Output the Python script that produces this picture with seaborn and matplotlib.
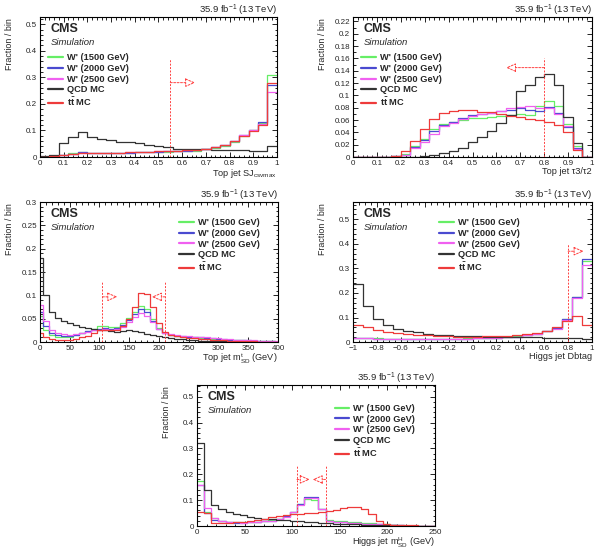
import numpy as np
import pandas as pd
import matplotlib
matplotlib.use("Agg")
import matplotlib.pyplot as plt
from matplotlib.lines import Line2D
from matplotlib.ticker import MultipleLocator, FuncFormatter
import seaborn as sns

# ---- data (fraction per bin) ----
labels = ["W' (1500 GeV)", "W' (2000 GeV)", "W' (2500 GeV)", "QCD MC", r"t$\mathbf{\bar{t}}$ MC"]
colors = ["#66ee66", "#4a4ad0", "#f060f0", "#333333", "#ee3b3b"]

# top jet subjet csv max, 25 bins 0..1
csv_edges = np.linspace(0, 1, 26)
csv_w1500 = [0.001, 0.004, 0.009, 0.014, 0.019, 0.016, 0.015, 0.016, 0.017, 0.017, 0.018, 0.018, 0.019,
             0.020, 0.021, 0.022, 0.024, 0.029, 0.034, 0.043, 0.058, 0.080, 0.100, 0.128, 0.310]
csv_w2000 = [0.001, 0.003, 0.008, 0.013, 0.018, 0.016, 0.015, 0.016, 0.017, 0.017, 0.018, 0.019, 0.020,
             0.021, 0.022, 0.023, 0.025, 0.030, 0.036, 0.045, 0.060, 0.082, 0.100, 0.130, 0.270]
csv_w2500 = [0.001, 0.003, 0.007, 0.012, 0.017, 0.016, 0.015, 0.016, 0.017, 0.018, 0.019, 0.020, 0.021,
             0.022, 0.023, 0.025, 0.027, 0.032, 0.038, 0.047, 0.062, 0.083, 0.100, 0.125, 0.245]
csv_qcd = [0.003, 0.006, 0.052, 0.075, 0.094, 0.077, 0.066, 0.063, 0.058, 0.055, 0.051, 0.047, 0.042,
           0.037, 0.032, 0.030, 0.030, 0.029, 0.028, 0.027, 0.027, 0.026, 0.024, 0.022, 0.040]
csv_tt = [0.001, 0.003, 0.007, 0.012, 0.016, 0.015, 0.015, 0.016, 0.017, 0.018, 0.019, 0.020, 0.021,
          0.022, 0.023, 0.025, 0.027, 0.031, 0.037, 0.046, 0.060, 0.080, 0.097, 0.122, 0.280]

# top jet tau3/tau2, 25 bins 0..1
tau_edges = np.linspace(0, 1, 26)
tau_w1500 = [0, 0, 0, 0, 0.001, 0.005, 0.018, 0.030, 0.045, 0.053, 0.057, 0.060, 0.063,
             0.064, 0.065, 0.066, 0.068, 0.070, 0.068, 0.082, 0.091, 0.082, 0.053, 0.018, 0]
tau_w2000 = [0, 0, 0, 0, 0.001, 0.004, 0.017, 0.028, 0.043, 0.052, 0.056, 0.063, 0.068,
             0.070, 0.072, 0.074, 0.077, 0.079, 0.076, 0.075, 0.081, 0.071, 0.049, 0.015, 0]
tau_w2500 = [0, 0, 0, 0, 0.001, 0.003, 0.014, 0.024, 0.038, 0.050, 0.055, 0.062, 0.067,
             0.069, 0.072, 0.075, 0.079, 0.081, 0.082, 0.080, 0.079, 0.070, 0.050, 0.013, 0]
tau_qcd = [0, 0, 0, 0, 0, 0, 0, 0.001, 0.003, 0.006, 0.009, 0.015, 0.025,
           0.033, 0.043, 0.055, 0.068, 0.107, 0.117, 0.130, 0.134, 0.117, 0.065, 0.022, 0]
tau_tt = [0, 0, 0, 0, 0.001, 0.010, 0.026, 0.046, 0.062, 0.072, 0.075, 0.077, 0.076,
          0.073, 0.073, 0.070, 0.066, 0.065, 0.062, 0.060, 0.057, 0.052, 0.040, 0.012, 0]

# top jet soft-drop mass, 10 GeV bins (first one 0-5)
mt_edges = np.concatenate([[0], np.arange(5, 400, 10), [400]])
mt_w1500 = [0.055, 0.025, 0.015, 0.012, 0.011, 0.012, 0.015, 0.019, 0.024, 0.029, 0.034, 0.035, 0.032, 0.033,
            0.040, 0.052, 0.065, 0.078, 0.070, 0.050, 0.030, 0.020, 0.016, 0.014, 0.012, 0.011, 0.010, 0.009,
            0.008, 0.007, 0.006, 0.005, 0.005, 0.004, 0.004, 0.003, 0.003, 0.002, 0.002, 0.002, 0.001]
mt_w2000 = [0.065, 0.035, 0.020, 0.016, 0.014, 0.014, 0.016, 0.019, 0.023, 0.026, 0.029, 0.030, 0.029, 0.031,
            0.036, 0.047, 0.060, 0.072, 0.064, 0.046, 0.029, 0.020, 0.016, 0.014, 0.013, 0.012, 0.011, 0.010,
            0.009, 0.008, 0.007, 0.006, 0.005, 0.005, 0.004, 0.004, 0.003, 0.003, 0.002, 0.002, 0.001]
mt_w2500 = [0.080, 0.045, 0.026, 0.020, 0.017, 0.016, 0.017, 0.019, 0.022, 0.025, 0.027, 0.028, 0.027, 0.029,
            0.033, 0.043, 0.054, 0.062, 0.057, 0.043, 0.028, 0.020, 0.017, 0.015, 0.014, 0.013, 0.012, 0.011,
            0.010, 0.009, 0.008, 0.007, 0.006, 0.005, 0.005, 0.004, 0.004, 0.003, 0.003, 0.002, 0.002]
mt_qcd = [0.180, 0.100, 0.065, 0.052, 0.045, 0.040, 0.036, 0.033, 0.031, 0.029, 0.027, 0.025, 0.023, 0.022,
          0.024, 0.026, 0.024, 0.021, 0.018, 0.016, 0.013, 0.011, 0.009, 0.007, 0.006, 0.005, 0.004, 0.003,
          0.003, 0.002, 0.002, 0.002, 0.001, 0.001, 0.001, 0.001, 0.001, 0.001, 0.0005, 0.0005, 0.0005]
mt_tt = [0.020, 0.010, 0.006, 0.004, 0.004, 0.005, 0.007, 0.010, 0.014, 0.020, 0.025, 0.027, 0.026, 0.027,
         0.035, 0.050, 0.075, 0.105, 0.103, 0.075, 0.040, 0.022, 0.016, 0.013, 0.011, 0.009, 0.008, 0.007,
         0.006, 0.005, 0.004, 0.004, 0.003, 0.003, 0.002, 0.002, 0.002, 0.001, 0.001, 0.001, 0.001]

# higgs jet double-b tag, 24 bins -1..1
db_edges = np.linspace(-1, 1, 25)
db_w1500 = [0.018, 0.016, 0.015, 0.014, 0.013, 0.013, 0.013, 0.013, 0.013, 0.014, 0.014, 0.015,
            0.016, 0.017, 0.018, 0.020, 0.023, 0.028, 0.035, 0.045, 0.058, 0.095, 0.185, 0.330]
db_w2000 = [0.017, 0.015, 0.014, 0.013, 0.012, 0.012, 0.012, 0.012, 0.012, 0.013, 0.013, 0.014,
            0.015, 0.016, 0.017, 0.019, 0.022, 0.027, 0.034, 0.044, 0.056, 0.093, 0.185, 0.338]
db_w2500 = [0.016, 0.015, 0.014, 0.013, 0.012, 0.012, 0.012, 0.012, 0.012, 0.013, 0.013, 0.014,
            0.015, 0.016, 0.017, 0.019, 0.022, 0.027, 0.034, 0.044, 0.055, 0.090, 0.180, 0.315]
db_qcd = [0.235, 0.145, 0.095, 0.070, 0.055, 0.045, 0.040, 0.034, 0.030, 0.027, 0.025, 0.024,
          0.023, 0.022, 0.021, 0.021, 0.020, 0.019, 0.019, 0.018, 0.018, 0.017, 0.016, 0.012]
db_tt = [0.068, 0.060, 0.050, 0.042, 0.037, 0.033, 0.030, 0.027, 0.025, 0.023, 0.022, 0.022,
         0.022, 0.023, 0.024, 0.026, 0.028, 0.032, 0.038, 0.047, 0.060, 0.085, 0.105, 0.068]

# higgs jet soft-drop mass, 7.5 GeV bins
mh_edges = np.arange(0, 256, 7.5)
mh_w1500 = [0.175, 0.055, 0.030, 0.020, 0.017, 0.015, 0.014, 0.015, 0.017, 0.019, 0.022, 0.027, 0.038, 0.055,
            0.085, 0.105, 0.100, 0.065, 0.025, 0.020, 0.018, 0.016, 0.014, 0.012, 0.010, 0.008, 0.006, 0.004,
            0.003, 0.002, 0.002, 0.001, 0.001, 0.001]
mh_w2000 = [0.160, 0.050, 0.025, 0.018, 0.015, 0.013, 0.013, 0.014, 0.016, 0.018, 0.021, 0.026, 0.037, 0.055,
            0.085, 0.113, 0.113, 0.067, 0.020, 0.016, 0.014, 0.012, 0.011, 0.009, 0.007, 0.006, 0.005, 0.004,
            0.003, 0.002, 0.002, 0.001, 0.001, 0.001]
mh_w2500 = [0.160, 0.070, 0.030, 0.020, 0.016, 0.014, 0.013, 0.014, 0.016, 0.018, 0.021, 0.026, 0.036, 0.054,
            0.083, 0.110, 0.110, 0.066, 0.020, 0.016, 0.014, 0.012, 0.011, 0.009, 0.007, 0.006, 0.005, 0.004,
            0.003, 0.002, 0.002, 0.001, 0.001, 0.001]
mh_qcd = [0.320, 0.140, 0.080, 0.065, 0.055, 0.047, 0.041, 0.036, 0.032, 0.029, 0.026, 0.024, 0.022, 0.020,
          0.018, 0.016, 0.014, 0.012, 0.010, 0.009, 0.008, 0.007, 0.006, 0.005, 0.004, 0.004, 0.003, 0.003,
          0.002, 0.002, 0.002, 0.001, 0.001, 0.001]
mh_tt = [0.055, 0.050, 0.012, 0.010, 0.012, 0.014, 0.017, 0.020, 0.025, 0.028, 0.033, 0.038, 0.042, 0.045,
         0.048, 0.050, 0.052, 0.055, 0.058, 0.062, 0.068, 0.072, 0.073, 0.065, 0.045, 0.020, 0.008, 0.005,
         0.004, 0.003, 0.003, 0.002, 0.002, 0.002]

# ---- style ----
sns.set_theme(style="ticks")
plt.rcParams['font.family'] = ['Liberation Sans', 'DejaVu Sans']
plt.rcParams['mathtext.fontset'] = 'custom'
plt.rcParams['mathtext.rm'] = 'Liberation Sans'
plt.rcParams['mathtext.it'] = 'Liberation Sans:italic'
plt.rcParams['mathtext.bf'] = 'Liberation Sans:bold'

fig = plt.figure(figsize=(6.03, 5.5), dpi=100)


def fmt(v, pos):
    s = f"{round(v, 6):g}"
    return s.replace("-", "\u2212")


def panel(rect, edges, series, xlim, ylim, xmaj, xmin, ymaj, ymin, xlabel, leg_xy, cuts):
    ax = fig.add_axes(rect)
    edges = np.asarray(edges, float)
    centers = 0.5 * (edges[:-1] + edges[1:])
    for vals, c in zip(series, colors):
        df = pd.DataFrame({"x": centers, "w": vals})
        sns.histplot(data=df, x="x", weights="w", bins=list(edges), element="step", fill=False,
                     color=c, linewidth=0.9, ax=ax)
    ax.set_xlim(*xlim)
    ax.set_ylim(*ylim)
    ax.xaxis.set_major_locator(MultipleLocator(xmaj))
    ax.xaxis.set_minor_locator(MultipleLocator(xmin))
    ax.yaxis.set_major_locator(MultipleLocator(ymaj))
    ax.yaxis.set_minor_locator(MultipleLocator(ymin))
    ax.xaxis.set_major_formatter(FuncFormatter(fmt))
    ax.yaxis.set_major_formatter(FuncFormatter(fmt))
    ax.tick_params(which="both", direction="in", top=True, right=True, labelsize=5.8,
                   width=0.6, color="black")
    ax.tick_params(which="major", length=3.5, pad=2)
    ax.tick_params(which="minor", length=1.8)
    for sp in ax.spines.values():
        sp.set_linewidth(0.8)
        sp.set_color("black")

    ax.set_ylabel("Fraction / bin", fontsize=6.4, loc="top")
    ax.yaxis.set_label_coords(-0.11, 0.99)
    ax.set_xlabel(xlabel, fontsize=6.6, loc="right")
    ax.xaxis.set_label_coords(1.0, -0.068)

    ax.text(0.045, 0.915, "CMS", transform=ax.transAxes, fontsize=9, fontweight="bold", va="center")
    ax.text(0.045, 0.82, "Simulation", transform=ax.transAxes, fontsize=6.8, style="italic", va="center")
    ax.text(1.0, 1.05, r"35.9 fb$^{-1}$ (13 TeV)", transform=ax.transAxes, fontsize=6.8,
            ha="right", va="center")

    handles = [Line2D([0], [0], color=c, lw=1.6) for c in colors]
    ax.legend(handles, labels, loc="upper left", bbox_to_anchor=leg_xy, frameon=False,
              prop={"weight": "bold", "size": 6.7}, handlelength=1.6, handletextpad=0.4,
              labelspacing=0.18, borderpad=0, borderaxespad=0)

    for x, ytop, yarr, xend in cuts:
        ax.plot([x, x], [0, ytop], color="#ff4040", ls=(0, (2, 1.5)), lw=0.7)
        ax.annotate("", xy=(xend, yarr), xytext=(x, yarr),
                    arrowprops=dict(arrowstyle="-|>,head_length=0.5,head_width=0.22",
                                    ls=(0, (2, 1.5)), color="#ff4040", fc="white", lw=0.7,
                                    shrinkA=0, shrinkB=0))
    return ax


panel([0.0663, 0.7145, 0.393, 0.2545], csv_edges,
      [csv_w1500, csv_w2000, csv_w2500, csv_qcd, csv_tt],
      (0, 1), (0, 0.527), 0.1, 0.02, 0.1, 0.02, r"Top jet SJ$_{\mathrm{csvmax}}$",
      (0.035, 0.74), [(0.55, 0.37, 0.28, 0.655)])

panel([0.5854, 0.7145, 0.3964, 0.2545], tau_edges,
      [tau_w1500, tau_w2000, tau_w2500, tau_qcd, tau_tt],
      (0, 1), (0, 0.227), 0.1, 0.02, 0.02, 0.01, "Top jet \u03c43/\u03c42",
      (0.035, 0.74), [(0.8, 0.161, 0.145, 0.64)])

panel([0.0663, 0.378, 0.3947, 0.2545], mt_edges,
      [mt_w1500, mt_w2000, mt_w2500, mt_qcd, mt_tt],
      (0, 400), (0, 0.3), 50, 10, 0.05, 0.01, r"Top jet m$^{\mathrm{t}}_{\mathrm{SD}}$ (GeV)",
      (0.585, 0.885), [(105, 0.131, 0.097, 130), (210, 0.131, 0.097, 188)])

panel([0.5854, 0.378, 0.3964, 0.2545], db_edges,
      [db_w1500, db_w2000, db_w2500, db_qcd, db_tt],
      (-1, 1), (0, 0.57), 0.2, 0.05, 0.1, 0.02, "Higgs jet Dbtag",
      (0.36, 0.885), [(0.8, 0.40, 0.37, 0.93)])

panel([0.3267, 0.0436, 0.3947, 0.2564], mh_edges,
      [mh_w1500, mh_w2000, mh_w2500, mh_qcd, mh_tt],
      (0, 250), (0, 0.545), 50, 10, 0.1, 0.02, r"Higgs jet m$^{\mathrm{H}}_{\mathrm{SD}}$ (GeV)",
      (0.578, 0.865), [(105, 0.235, 0.18, 118.5), (135, 0.235, 0.18, 121.5)])

fig.savefig("out.png", dpi=100)
